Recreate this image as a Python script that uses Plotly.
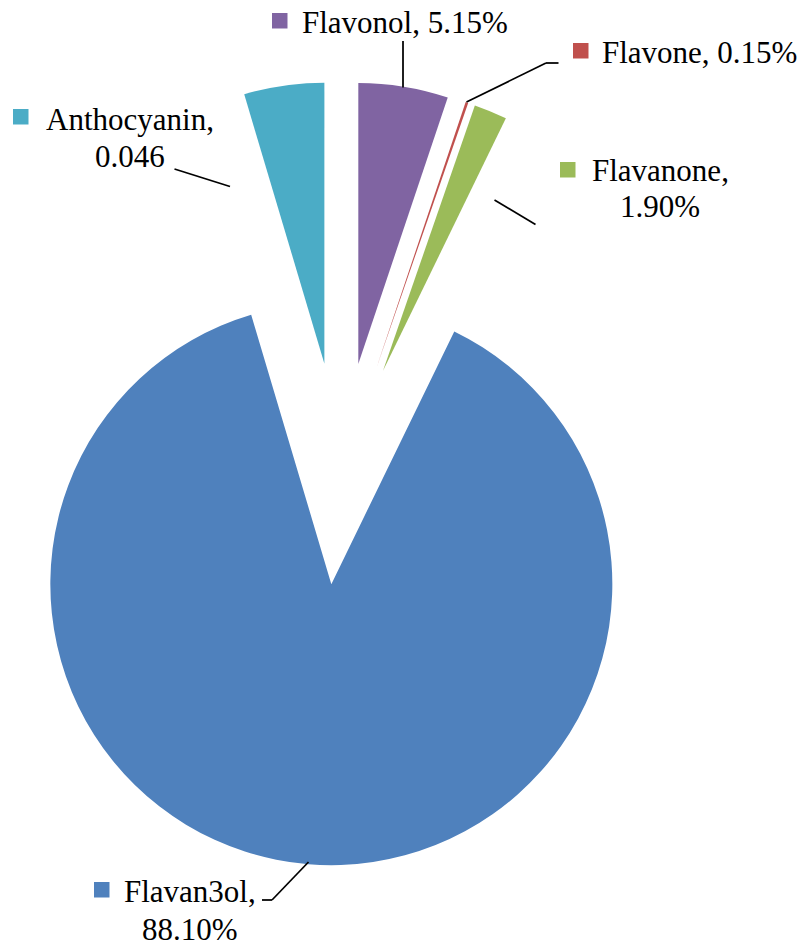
import math
import plotly.graph_objects as go

# Flavonoid class composition (fractions of total)
classes = ["Flavonol", "Flavone", "Flavanone", "Flavan3ol", "Anthocyanin"]
shares = [0.0515, 0.0015, 0.0190, 0.8810, 0.046]
share_text = ["5.15%", "0.15%", "1.90%", "88.10%", "0.046"]
colors = ["#8064A2", "#C0504D", "#9BBB59", "#4F81BD", "#4BACC6"]

W, H = 812, 950
R = 281            # pie radius, px
CX, CY = 340.4, 473.5  # un-exploded pie centre, px from top-left
EXPLODE = 111      # distance each slice is pulled out, px


def px(x):
    return x / W


def py(y):
    return 1 - y / H


fig = go.Figure()

# each slice is its own pie trace, shifted outward along its bisector
total = sum(shares)
start = 0.0
for i, (name, v) in enumerate(zip(classes, shares)):
    mid = (start + v / 2) / total * 2 * math.pi   # clockwise from 12 o'clock
    start += v
    sx = CX + EXPLODE * math.sin(mid)
    sy = CY - EXPLODE * math.cos(mid)
    slice_colors = ["rgba(0,0,0,0)"] * len(shares)
    slice_colors[i] = colors[i]
    fig.add_trace(go.Pie(
        labels=classes,
        values=shares,
        sort=False,
        direction="clockwise",
        rotation=0,
        textinfo="none",
        hoverinfo="label+percent",
        marker=dict(colors=slice_colors, line=dict(width=0)),
        domain=dict(x=[px(sx - R), px(sx + R)], y=[py(sy + R), py(sy - R)]),
        showlegend=False,
    ))

FONT = dict(family="Liberation Serif", size=31, color="black")

# label layout: (key square left, key square top, lines[(text, x, baseline, anchor)])
label_layout = [
    (272, 13, [(f"{classes[0]}, {share_text[0]}", 302, 33.5, "left")]),
    (573, 43, [(f"{classes[1]}, {share_text[1]}", 602, 63.5, "left")]),
    (560, 162, [(f"{classes[2]},", 660, 181.5, "center"), (share_text[2], 660, 217, "center")]),
    (13, 109, [(f"{classes[4]},", 130, 129.5, "center"), (share_text[4], 130, 167, "center")]),
    (94, 882, [(f"{classes[3]},", 189.5, 901.5, "center"), (share_text[3], 189.5, 940, "center")]),
]
key_colors = [colors[0], colors[1], colors[2], colors[4], colors[3]]

shapes = []
annotations = []
for (kx, ky, lines), kc in zip(label_layout, key_colors):
    shapes.append(dict(type="rect", xref="paper", yref="paper",
                       x0=px(kx), x1=px(kx + 15.5), y0=py(ky + 15.5), y1=py(ky),
                       fillcolor=kc, line=dict(width=0)))
    for text, tx, base, anchor in lines:
        annotations.append(dict(
            text=text, xref="paper", yref="paper",
            x=px(tx - 2 if anchor == "left" else tx), y=py(base - 10.5),
            xanchor=anchor, yanchor="middle", showarrow=False, font=FONT,
        ))

# leader lines from labels to slices
leaders = [
    [(403, 41), (403, 87.5)],
    [(558.5, 63), (546, 63), (466.5, 102)],
    [(494.5, 200), (535.5, 224.5)],
    [(174.5, 169), (230, 186.5)],
    [(262, 900), (272, 900), (308.5, 862)],
]
for pts in leaders:
    for (x0, y0), (x1, y1) in zip(pts[:-1], pts[1:]):
        shapes.append(dict(type="line", xref="paper", yref="paper",
                           x0=px(x0), y0=py(y0), x1=px(x1), y1=py(y1),
                           line=dict(color="black", width=1.75)))

fig.update_layout(
    width=W, height=H,
    margin=dict(l=0, r=0, t=0, b=0),
    paper_bgcolor="white", plot_bgcolor="white",
    font=dict(family="Liberation Serif"),
    shapes=shapes, annotations=annotations,
    showlegend=False,
)

fig.write_html("out.html")
